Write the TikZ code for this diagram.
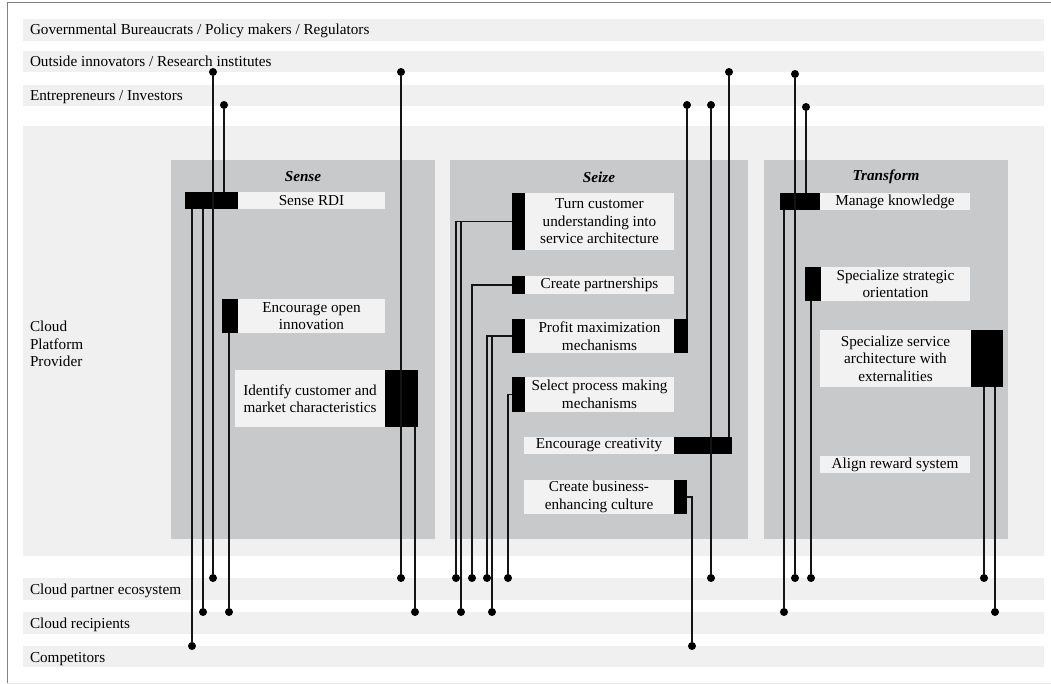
\documentclass[tikz,border=0pt]{standalone}
\usepackage{fontspec}
\setmainfont{Liberation Serif}
\definecolor{bandc}{RGB}{240,240,240}
\definecolor{panelc}{RGB}{200,201,203}
\definecolor{boxc}{RGB}{242,242,242}
\definecolor{framec}{RGB}{130,130,130}
\newcommand\myfs{\fontsize{15.2}{17.5}\selectfont}
\begin{document}
\begin{tikzpicture}[x=1pt,y=-1pt,
 every node/.style={font=\myfs, inner sep=0pt, outer sep=0pt},
 bandbox/.style={fill=bandc},
 panelbox/.style={fill=panelc},
 bar/.style={fill=black, anchor=north west},
 item/.style={fill=boxc, anchor=north west, align=center},
 lbl/.style={anchor=base west, align=left},
 ttl/.style={font=\myfs\bfseries\itshape},
 conn/.style={line width=1.5pt, draw=black!92},
 dot/.style={circle, fill=black, minimum size=8pt, inner sep=0pt}]
\useasboundingbox (0,0) rectangle (1051,684);
% bands
\fill[bandbox] (23,19) rectangle (1044,41);
\fill[bandbox] (23,51) rectangle (1044,72);
\fill[bandbox] (23,85) rectangle (1044,106);
\fill[bandbox] (23,126) rectangle (1044,556);
\fill[bandbox] (23,578) rectangle (1044,600);
\fill[bandbox] (23,612) rectangle (1044,634);
\fill[bandbox] (23,646) rectangle (1044,667);
% frame
\draw[framec, line width=1pt] (7,684) -- (7,3) -- (1051,3);
\draw[black!8, line width=1pt] (7,683) -- (1051,683);
% panels
\fill[panelbox] (171,160) rectangle (435,539);
\fill[panelbox] (450,160) rectangle (748,539);
\fill[panelbox] (764,160) rectangle (1008,539);
\node[ttl] (senseT) at (303,177) {Sense};
\node[ttl] (seizeT) at (599,177) {Seize};
\node[ttl] (transT) at (886,177) {Transform};
% labels
\node[lbl] (gov) at (30,35) {Governmental Bureaucrats / Policy makers / Regulators};
\node[lbl] (out) at (30,67) {Outside innovators / Research institutes};
\node[lbl] (ent) at (30,101) {Entrepreneurs / Investors};
\node[anchor=west, align=left] (cpp) at (30,344) {Cloud\\Platform\\Provider};
\node[lbl] (cpe) at (30,594) {Cloud partner ecosystem};
\node[lbl] (cr) at (30,628) {Cloud recipients};
\node[lbl] (comp) at (30,662) {Competitors};
% Sense items
\node[bar, minimum width=53pt, minimum height=17pt] (rdiB) at (185,192) {};
\node[item, minimum width=147pt, minimum height=17pt] (rdi) at (238,192) {Sense RDI};
\node[bar, minimum width=16pt, minimum height=34pt] (eoiB) at (222,299) {};
\node[item, minimum width=147pt, minimum height=34pt] (eoi) at (238,299) {Encourage open\\innovation};
\node[item, minimum width=150pt, minimum height=57pt] (icm) at (235,370) {Identify customer and\\market characteristics};
\node[bar, minimum width=33pt, minimum height=57pt] (icmB) at (385,370) {};
% Seize items
\node[bar, minimum width=13pt, minimum height=57pt] (turnB) at (512,193) {};
\node[item, minimum width=149pt, minimum height=57pt] (turn) at (525,193) {Turn customer\\understanding into\\service architecture};
\node[bar, minimum width=13pt, minimum height=18pt] (partB) at (512,276) {};
\node[item, minimum width=149pt, minimum height=18pt] (part) at (525,276) {Create partnerships};
\node[bar, minimum width=13pt, minimum height=34pt] (profB) at (512,319) {};
\node[item, minimum width=149pt, minimum height=34pt] (prof) at (525,319) {Profit maximization\\mechanisms};
\node[bar, minimum width=14pt, minimum height=34pt] (profB2) at (674,319) {};
\node[bar, minimum width=13pt, minimum height=35pt] (selB) at (512,377) {};
\node[item, minimum width=149pt, minimum height=35pt] (sel) at (525,377) {Select process making\\mechanisms};
\node[item, minimum width=150pt, minimum height=17pt] (creat) at (524,437) {Encourage creativity};
\node[bar, minimum width=58pt, minimum height=17pt] (creatB) at (674,437) {};
\node[item, minimum width=150pt, minimum height=34pt] (cult) at (524,480) {Create business-\\enhancing culture};
\node[bar, minimum width=13pt, minimum height=34pt] (cultB) at (674,480) {};
% Transform items
\node[bar, minimum width=40pt, minimum height=17pt] (mkB) at (780,193) {};
\node[item, minimum width=150pt, minimum height=17pt] (mk) at (820,193) {Manage knowledge};
\node[bar, minimum width=16pt, minimum height=34pt] (ssoB) at (805,267) {};
\node[item, minimum width=149pt, minimum height=34pt] (sso) at (821,267) {Specialize strategic\\orientation};
\node[item, minimum width=151pt, minimum height=57pt] (ssa) at (820,330) {Specialize service\\architecture with\\externalities};
\node[bar, minimum width=32pt, minimum height=57pt] (ssaB) at (971,330) {};
\node[item, minimum width=150pt, minimum height=17pt] (ars) at (820,456) {Align reward system};
% dots top
\node[dot] (o213) at (213,72) {};
\node[dot] (e224) at (224,105) {};
\node[dot] (o401) at (401,72) {};
\node[dot] (e687) at (687,105) {};
\node[dot] (e711) at (711,105) {};
\node[dot] (o729) at (729,72) {};
\node[dot] (o795) at (795,74) {};
\node[dot] (e806) at (806,107) {};
% dots bottom
\node[dot] (p213) at (213,578) {};
\node[dot] (r203) at (203,612) {};
\node[dot] (c192) at (192,646) {};
\node[dot] (r229) at (229,612) {};
\node[dot] (p401) at (401,578) {};
\node[dot] (r415) at (415,612) {};
\node[dot] (p456) at (456,578) {};
\node[dot] (r461) at (461,612) {};
\node[dot] (p472) at (472,578) {};
\node[dot] (p487) at (487,578) {};
\node[dot] (r492) at (492,612) {};
\node[dot] (p508) at (508,578) {};
\node[dot] (p711) at (711,578) {};
\node[dot] (c692) at (692,646) {};
\node[dot] (r784) at (784,612) {};
\node[dot] (p795) at (795,578) {};
\node[dot] (p811) at (811,578) {};
\node[dot] (p984) at (984,578) {};
\node[dot] (r995) at (995,612) {};
% connectors: Sense
\draw[conn] (o213) -- (p213);
\draw[conn] (e224) -- (e224 |- rdiB.north);
\draw[conn] (r203 |- rdiB.south) -- (r203);
\draw[conn] (c192 |- rdiB.south) -- (c192);
\draw[conn] (r229 |- eoiB.south) -- (r229);
\draw[conn] (o401) -- (p401);
\draw[conn] (r415 |- icmB.south) -- (r415);
% connectors: Seize
\draw[conn] (turnB.west) -| (p456);
\draw[conn] (turnB.west) -| (r461);
\draw[conn] (partB.west) -| (p472);
\draw[conn] (profB.west) -| (p487);
\draw[conn] (profB.west) -| (r492);
\draw[conn] (selB.west) -| (p508);
\draw[conn] (e687) -- (e687 |- profB2.north);
\draw[conn] (e711) -- (p711);
\draw[conn] (o729) -- (o729 |- creatB.north);
\draw[conn] (cultB.east) -| (c692);
% connectors: Transform
\draw[conn] (o795) -- (p795);
\draw[conn] (e806) -- (e806 |- mkB.north);
\draw[conn] (r784 |- mkB.south) -- (r784);
\draw[conn] (p811 |- ssoB.south) -- (p811);
\draw[conn] (p984 |- ssaB.south) -- (p984);
\draw[conn] (r995 |- ssaB.south) -- (r995);
\end{tikzpicture}
\end{document}
